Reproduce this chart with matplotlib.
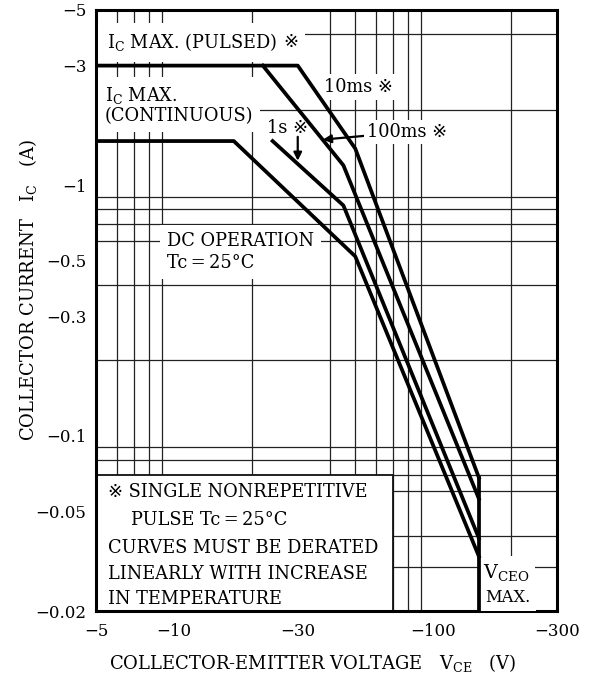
import matplotlib
matplotlib.use("Agg")
import matplotlib.pyplot as plt
from matplotlib.ticker import FixedLocator, LogLocator, NullFormatter
from matplotlib.patches import Rectangle

# safe operating area, magnitudes of V_CE (V) and I_C (A); axes are labelled negative
v_10ms = [5, 30, 50, 150]
i_10ms = [3, 3, 1.4, 0.068]
v_100ms = [22, 45, 150]
i_100ms = [3, 1.2, 0.056]
v_1s = [24, 45, 150]
i_1s = [1.5, 0.83, 0.039]
v_dc = [5, 17, 50, 150]
i_dc = [1.5, 1.5, 0.52, 0.033]
v_ceo = [150, 150]
i_ceo = [0.068, 0.02]

x_ticks = [5, 10, 30, 100, 300]
x_labels = ["\u22125", "\u221210", "\u221230", "\u2212100", "\u2212300"]
y_ticks = [0.02, 0.05, 0.1, 0.3, 0.5, 1, 3, 5]
y_labels = ["\u22120.02", "\u22120.05", "\u22120.1", "\u22120.3", "\u22120.5", "\u22121", "\u22123", "\u22125"]

plt.rcParams["font.family"] = ["DejaVu Serif", "DejaVu Sans", "Noto Sans CJK JP"]
plt.rcParams["mathtext.fontset"] = "dejavuserif"

fig = plt.figure(figsize=(5.93, 6.8), dpi=100)
ax = fig.add_axes([96 / 593, 1 - 611 / 680, 461 / 593, 601 / 680])
ax.set_xscale("log")
ax.set_yscale("log")
ax.set_xlim(5, 300)
ax.set_ylim(0.02, 5)

ax.xaxis.set_major_locator(FixedLocator(x_ticks))
ax.xaxis.set_minor_locator(LogLocator(base=10, subs=range(1, 10), numticks=20))
ax.yaxis.set_major_locator(FixedLocator(y_ticks))
ax.yaxis.set_minor_locator(LogLocator(base=10, subs=range(1, 10), numticks=20))
ax.set_xticklabels(x_labels)
ax.set_yticklabels(y_labels)
ax.xaxis.set_minor_formatter(NullFormatter())
ax.yaxis.set_minor_formatter(NullFormatter())
ax.tick_params(which="both", length=0, labelsize=12)
ax.tick_params(axis="x", pad=9)
ax.tick_params(axis="y", pad=7)

ax.set_axisbelow(True)
ax.grid(which="minor", color="#222222", lw=0.9)
ax.grid(which="major", visible=False)
for s in ax.spines.values():
    s.set_linewidth(2.2)

lw = 2.7
ax.plot(v_10ms, i_10ms, color="black", lw=lw, zorder=5)
ax.plot(v_100ms, i_100ms, color="black", lw=lw, zorder=5)
ax.plot(v_1s, i_1s, color="black", lw=lw, zorder=5)
ax.plot(v_dc, i_dc, color="black", lw=lw, zorder=5)
ax.plot(v_ceo, i_ceo, color="black", lw=lw, zorder=5)

fs = 12.8


def white(p):
    return dict(facecolor="white", edgecolor="none", pad=p)


ax.text(5.5, 3.72, r"$\mathregular{I_C}$ MAX. (PULSED)", fontsize=fs,
        ha="left", va="center", bbox=white(6), zorder=3)
ax.text(28.1, 3.72, "※", fontsize=fs, ha="center", va="center", bbox=white(5), zorder=3)
ax.text(5.4, 2.09, "$\\mathregular{I_C}$ MAX.\n(CONTINUOUS)", fontsize=fs,
        ha="left", va="center", linespacing=1.05, bbox=white(5), zorder=3)
ax.text(38, 2.46, "10ms ※", fontsize=fs, ha="left", va="center", bbox=white(3), zorder=3)
ax.text(22.9, 1.69, "1s ※", fontsize=fs, ha="left", va="center", bbox=white(2), zorder=3)
ax.annotate("", xy=(30, 1.22), xytext=(30, 1.6),
            arrowprops=dict(arrowstyle="-|>", color="black", lw=1.6, mutation_scale=12),
            zorder=6)
ax.annotate("100ms ※", xy=(37.5, 1.52), xytext=(55.5, 1.63), fontsize=fs,
            ha="left", va="center", bbox=white(2),
            arrowprops=dict(arrowstyle="-|>", color="black", lw=1.6, mutation_scale=12,
                            shrinkA=0, shrinkB=0),
            zorder=6)
ax.text(9.4, 0.542, "DC OPERATION\nTc\u2009=\u200925°C", fontsize=fs, ha="left", va="center",
        linespacing=1.3, bbox=white(5), zorder=3)

# notes box in lower-left corner
ax.add_patch(Rectangle((5, 0.02), 65, 0.05, facecolor="white", edgecolor="#111111",
                       lw=1.3, zorder=2.5))
notes = [("※ SINGLE NONREPETITIVE", 5.56, 0.0598),
         ("PULSE Tc\u2009=\u200925°C", 6.82, 0.0461),
         ("CURVES MUST BE DERATED", 5.56, 0.0357),
         ("LINEARLY WITH INCREASE", 5.56, 0.0281),
         ("IN TEMPERATURE", 5.56, 0.0223)]
for txt, xv, yv in notes:
    ax.text(xv, yv, txt, fontsize=fs, ha="left", va="center", zorder=3)

ax.text(156, 0.0286, r"$\mathregular{V_{CEO}}$", fontsize=fs + 1, ha="left", va="center",
        bbox=white(4), zorder=3)
ax.text(159, 0.0227, "MAX.", fontsize=fs - 1, ha="left", va="center", bbox=white(4), zorder=3)

fig.text(313 / 593, 1 - 663 / 680, r"COLLECTOR-EMITTER VOLTAGE   $\mathregular{V_{CE}}$   (V)",
         fontsize=13, ha="center", va="center")
fig.text(28 / 593, 1 - 290 / 680, r"COLLECTOR CURRENT   $\mathregular{I_C}$   (A)",
         fontsize=13, ha="center", va="center", rotation=90)

fig.savefig("out.png", dpi=100)
